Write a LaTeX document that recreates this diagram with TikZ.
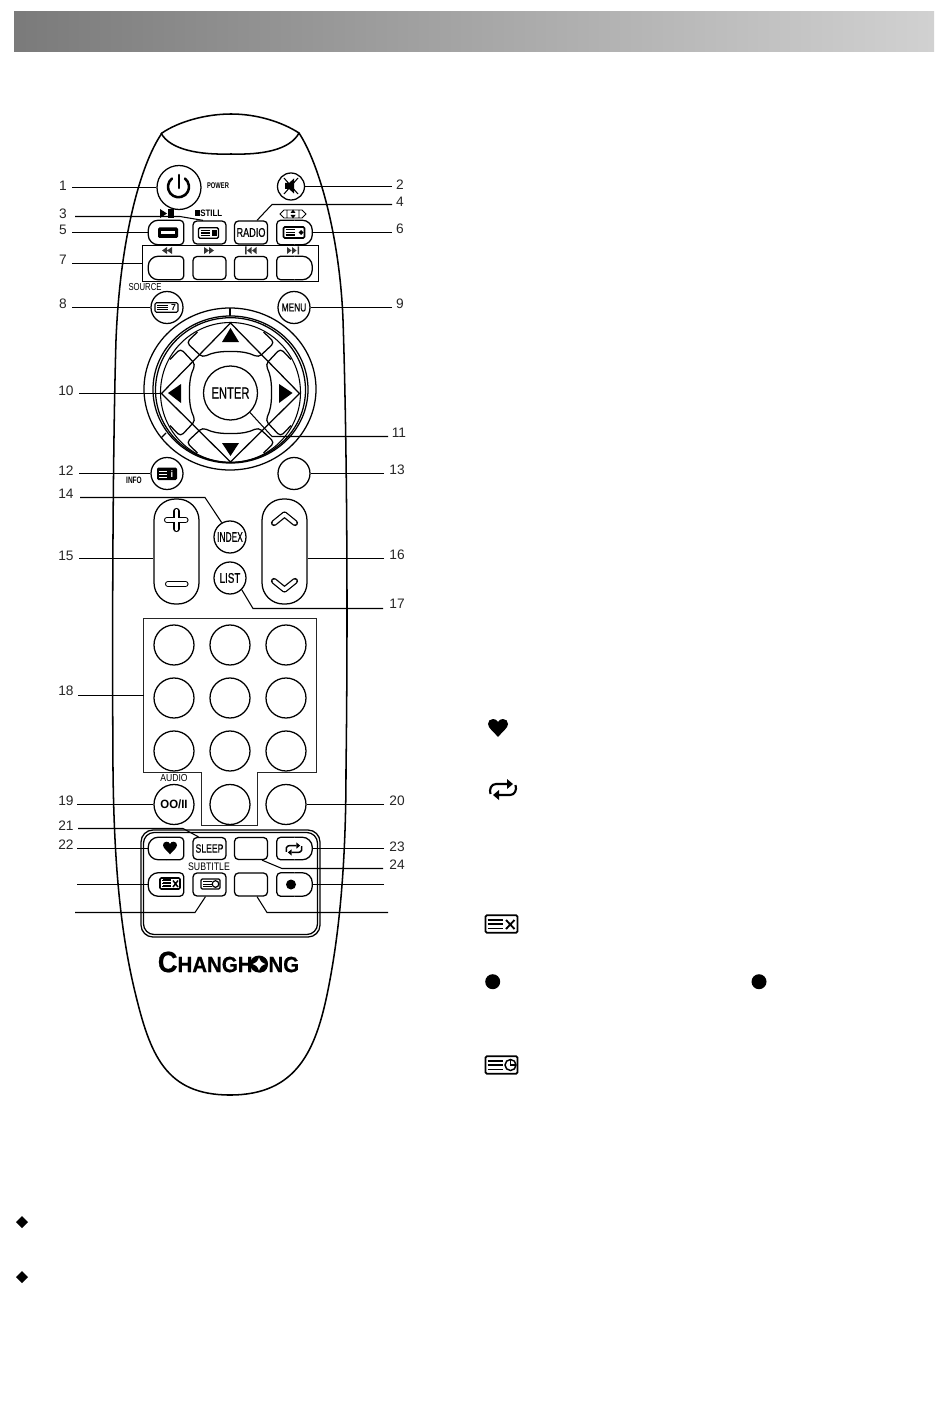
\documentclass[tikz,border=0pt]{standalone}
\usepackage{fontspec}
\setmainfont{Liberation Sans}
\newfontfamily\btnfont[FakeBold=0.7]{Liberation Sans}
\usetikzlibrary{calc,shapes.geometric}
\newcommand\sq[2]{\scalebox{#1}[1]{#2}}
\newcommand\pxfont[1]{\fontsize{#1}{#1}\selectfont}
\tikzset{
  body/.style={line width=1.15pt},
  conn/.style={line width=0.8pt},
  btnl/.style={line width=0.95pt},
  numlabel/.style={inner sep=0,font=\pxfont{10.3pt},text=black!85},
  small/.style={inner sep=0,font=\pxfont{#1pt}},
  circbtn/.style={circle,draw,line width=0.95pt,inner sep=0,minimum size=#1*0.75pt},
  midbtn/.style={rectangle,draw,line width=0.95pt,rounded corners=3pt,inner sep=0,minimum width=33*0.75pt,minimum height=#1*0.75pt},
  anchorbox/.style={rectangle,inner sep=0,minimum width=35*0.75pt,minimum height=#1*0.75pt}
}
% half-round buttons: name, cx, cy, height
\newcommand\btnL[4]{\node[anchorbox=#4] (#1) at (#2,#3) {};
  \draw[btnl,rounded corners=7.5pt] (#1.north) -- (#1.north west) -- (#1.south west) -- (#1.south);
  \draw[btnl,rounded corners=3pt] (#1.north) -- (#1.north east) -- (#1.south east) -- (#1.south);}
\newcommand\btnR[4]{\node[anchorbox=#4] (#1) at (#2,#3) {};
  \draw[btnl,rounded corners=3pt] (#1.north) -- (#1.north west) -- (#1.south west) -- (#1.south);
  \draw[btnl,rounded corners=7.5pt] (#1.north) -- (#1.north east) -- (#1.south east) -- (#1.south);}
% teletext icon: cx cy w h lw
\newcommand\tele[5]{\begin{scope}[shift={(#1,#2)}]
  \pgfmathsetmacro\hw{#3/2}\pgfmathsetmacro\hh{#4/2}
  \draw[line width=#5pt,rounded corners=1pt] (-\hw,-\hh) rectangle (\hw,\hh);
  \pgfmathsetmacro\lx{-\hw+2}\pgfmathsetmacro\rx{\hw*0.12}
  \foreach \t in {-.48,0,.48} \draw[line width=#5*.8pt] (\lx,\t*\hh) -- (\rx,\t*\hh);
  \end{scope}}
\newcommand\heart[3]{\fill[shift={(#1,#2)},scale=#3] (0,9) .. controls (-4,4) and (-10,0) .. (-10,-4) .. controls (-10,-7) and (-8,-9) .. (-5,-9) .. controls (-3,-9) and (-1,-8) .. (0,-6) .. controls (1,-8) and (3,-9) .. (5,-9) .. controls (8,-9) and (10,-7) .. (10,-4) .. controls (10,0) and (4,4) .. (0,9) -- cycle;}
\newcommand\repeaticon[4]{\begin{scope}[shift={(#1,#2)},scale=#3]
  \foreach \r in {0,180}{\begin{scope}[rotate=\r]
    \draw[line width=#4pt] (-12.5,4.5) .. controls (-14,0) and (-12,-5.5) .. (-7,-5.5) -- (4,-5.5);
    \fill (4,-10.5) -- (10,-5.5) -- (4,-0.5) -- cycle;
  \end{scope}}
  \end{scope}}
\begin{document}
\begin{tikzpicture}[x=0.75pt,y=-0.75pt,line cap=butt]
\useasboundingbox (0,0) rectangle (950,1426);
\fill[white] (0,0) rectangle (950,1426);
\shade[left color=black!52,right color=black!18] (14,12) rectangle (934,52);

% remote body
\draw[body] (231,114) .. controls (205,114) and (178,122) .. (162,133)
  .. controls (140,165) and (120,240) .. (116,340)
  .. controls (113,440) and (112,620) .. (113,770)
  .. controls (114,860) and (120,930) .. (135,992)
  .. controls (150,1054) and (165,1095) .. (230,1095)
  .. controls (297,1095) and (316,1050) .. (328,990)
  .. controls (340,930) and (346,860) .. (346,770)
  .. controls (348,620) and (347,440) .. (343,320)
  .. controls (340,240) and (320,165) .. (299,133)
  .. controls (282,122) and (257,114) .. (231,114) -- cycle;
\draw[body] (161,133) .. controls (170,150) and (200,155) .. (231,154) .. controls (262,155) and (290,150) .. (299,133);

% top buttons
\node[circbtn=44] (power) at (179,187.5) {};
\draw[line width=1.9pt,line cap=round] (172,178.5) arc[start angle=232,delta angle=-284,radius=10.5];
\draw[line width=1.9pt,line cap=round] (179,175) -- (179,188);
\node[circbtn=27] (mute) at (291,186.5) {};
\fill (285,183) -- (289,183) -- (294,178.5) -- (294,193.5) -- (289,189) -- (285,189) -- cycle;
\draw[line width=0.8pt] (284,178) -- (298,194) (298,178) -- (284,194);
\node[small=6.2] (powerlbl) at (218,186) {\bfseries\sq{.7}{POWER}};

\btnL{play}{166}{232.5}{24}
\node[midbtn=23] (still) at (209.5,232.5) {};
\node[midbtn=23] (radio) at (251,232.5) {\btnfont\pxfont{9.5pt}\sq{.72}{RADIO}};
\btnR{threed}{294.5}{232.5}{24}
\fill[rounded corners=1pt] (158,227.5) rectangle (178,238);
\fill[white] (161,231) rectangle (175,234.5);
\tele{208.5}{233}{20}{10.5}{1.1}
\fill (212,230) rectangle (216.5,236);
\tele{294}{232.5}{21}{11}{1.2}
\fill (301,230) -- (303.5,232.5) -- (301,235) -- (298.5,232.5) -- cycle;
\fill (160,209) -- (167,213.5) -- (160,218) -- cycle;
\fill (168,209) rectangle (174,218);
\fill (195,210) rectangle (199.5,216);
\node[small=7,anchor=west] (stilllbl) at (200,213) {\bfseries\sq{.85}{STILL}};
\draw[line width=0.6pt] (280,214) -- (284,210) -- (302,210) -- (306,214) -- (302,218) -- (284,218) -- cycle (287,210) -- (287,218) (299,210) -- (299,218);
\fill (293,209.5) -- (295.5,213) -- (290.5,213) -- cycle (293,218.5) -- (295.5,215) -- (290.5,215) -- cycle;

% row 7
\node[draw,line width=0.7pt,inner sep=0,minimum width=176*0.75pt,minimum height=36*0.75pt] (boxseven) at (230,263.5) {};
\btnL{rew}{166}{268}{23}
\node[midbtn=23] (ffw) at (209.5,268) {};
\node[midbtn=23] (prev) at (251,268) {};
\btnR{next}{294.5}{268}{23}
\fill[black!80] (167,247) -- (162,250.5) -- (167,254) -- cycle (172,247) -- (167,250.5) -- (172,254) -- cycle;
\fill[black!80] (204,247) -- (209,250.5) -- (204,254) -- cycle (209,247) -- (214,250.5) -- (209,254) -- cycle;
\fill[black!80] (245,246.5) rectangle (246.5,254.5) (251.5,247) -- (247,250.5) -- (251.5,254) -- cycle (256.5,247) -- (252,250.5) -- (256.5,254) -- cycle;
\fill[black!80] (287,247) -- (291.5,250.5) -- (287,254) -- cycle (292,247) -- (296.5,250.5) -- (292,254) -- cycle (297.5,246.5) rectangle (299,254.5);

% source / menu
\node[circbtn=32] (source) at (167,307.5) {};
\tele{166.5}{307.5}{23}{9.5}{0.8}
\node[small=6.5] at (173.5,307.5) {\bfseries 7};
\node[small=7.6] (sourcelbl) at (145,287) {\sq{.76}{SOURCE}};
\node[circbtn=32] (menu) at (294,307.5) {\btnfont\pxfont{8.6pt}\sq{.73}{MENU}};

% d-pad
\draw[line width=0.95pt] (230,389) ellipse[x radius=86,y radius=81];
\draw[line width=0.95pt] (230.5,389.5) ellipse[x radius=77.5,y radius=73.5];
\draw[line width=0.95pt] (230.5,390) ellipse[x radius=75,y radius=72.3];
\draw[line width=0.8pt] (230.5,392.5) circle[radius=70];
\coordinate (dpadc) at (230.5,392.5);
\draw[line width=0.95pt] (230,308) -- (230,316);
\draw[line width=0.95pt] (161,438) -- (166,433);
\coordinate (tipT) at (230.5,323);
\coordinate (tipL) at (161.5,393.5);
\coordinate (tipR) at (299.5,393.5);
\coordinate (tipB) at (230.5,462);
\draw[line width=0.95pt] (tipT) -- (tipR) -- (tipB) -- (tipL) -- cycle;
\foreach \a in {0,90,180,270}{
  \begin{scope}[shift={(230.5,392.5)},rotate=\a]
  \draw[line width=0.95pt,rounded corners=3pt] (-33,-60.5) -- (-44,-50) -- (-28,-35) .. controls (-18,-40) and (-10,-41) .. (0,-41) .. controls (10,-41) and (18,-40) .. (28,-35) -- (44,-50) -- (33,-60.5);
  \end{scope}}
\fill (222,342) -- (230.5,328) -- (239,342) -- cycle;
\fill (222,443) -- (230.5,456) -- (239,443) -- cycle;
\fill (168,393) -- (181,384) -- (181,403) -- cycle;
\fill (292.5,393) -- (279,384) -- (279,403) -- cycle;
\node[circbtn=54,fill=white] (enter) at (230.5,393) {\btnfont\pxfont{12pt}\sq{.7}{ENTER}};

% info / 13
\node[circbtn=32] (info) at (167,473.5) {};
\fill[rounded corners=1pt] (157,467.5) rectangle (177,480);
\foreach \yy in {471,474,477}{\draw[white,line width=0.5pt] (159,\yy) -- (167,\yy);}
\node[small=7,text=white] at (172,474) {\bfseries i};
\node[small=7] (infolbl) at (134,480) {\bfseries\sq{.7}{INFO}};
\node[circbtn=32] (btnthirteen) at (294,473.5) {};

% volume / channel
\node[draw,line width=0.95pt,rounded corners=16pt,inner sep=0,minimum width=45*0.75pt,minimum height=105*0.75pt] (vol) at (176.5,551.5) {};
\node[draw,line width=0.95pt,rounded corners=16pt,inner sep=0,minimum width=45*0.75pt,minimum height=105*0.75pt] (chan) at (284.5,551.5) {};
\begin{scope}[line cap=round]
\draw[line width=4.6pt] (176.5,511) -- (176.5,529) (167,520) -- (185.5,520);
\draw[white,line width=2.9pt] (176.5,511) -- (176.5,529) (167,520) -- (185.5,520);
\draw[line width=4.6pt] (168,584) -- (185.5,584);
\draw[white,line width=2.9pt] (168,584) -- (185.5,584);
\draw[line width=4.6pt,line join=round] (274,523) -- (284.5,514.5) -- (295,523);
\draw[white,line width=2.7pt,line join=round] (274,523) -- (284.5,514.5) -- (295,523);
\draw[line width=4.6pt,line join=round] (274,581) -- (284.5,589.5) -- (295,581);
\draw[white,line width=2.7pt,line join=round] (274,581) -- (284.5,589.5) -- (295,581);
\end{scope}
\node[circbtn=32] (index) at (230,537) {\btnfont\pxfont{10.5pt}\sq{.6}{INDEX}};
\node[circbtn=32] (list) at (230,578) {\btnfont\pxfont{10.5pt}\sq{.7}{LIST}};

% number pad
\draw[line width=1pt,black!85] (143.5,618.5) -- (316.5,618.5) -- (316.5,772.5) -- (257.5,772.5) -- (257.5,825.5) -- (201.5,825.5) -- (201.5,772.5) -- (143.5,772.5) -- cycle;
\coordinate (padw) at (143.5,695.5);
\foreach \col/\xx in {a/174,b/230,c/286}{
  \foreach \row/\yy in {1/645,2/698,3/751}{
    \node[circbtn=40] (n\col\row) at (\xx,\yy) {};
  }}
\node[circbtn=40] (audio) at (174,804.5) {\bfseries\pxfont{9pt}\sq{.95}{OO/II}};
\node[circbtn=40] (nzero) at (230,804.5) {};
\node[circbtn=40] (btntwenty) at (286,804.5) {};
\node[small=7.6] (audiolbl) at (174,778) {\sq{.85}{AUDIO}};

% lower group
\draw[line width=0.95pt,rounded corners=9pt] (141,830) rectangle (320,937);
\draw[line width=0.95pt,rounded corners=8pt] (143.5,832.5) rectangle (317.5,934.5);
\btnL{fav}{166}{848.5}{22}
\node[midbtn=22] (sleep) at (209.5,848.5) {\btnfont\pxfont{9pt}\sq{.72}{SLEEP}};
\node[midbtn=22] (btnblank) at (251,848.5) {};
\btnR{rep}{294.5}{848.5}{22}
\btnL{cancel}{166}{884.5}{23}
\node[midbtn=23] (subtitle) at (209.5,884.5) {};
\node[midbtn=23] (btnblankb) at (251,884.5) {};
\btnR{dot}{294.5}{884.5}{23}
\heart{170}{848}{0.7}
\repeaticon{294}{849}{0.62}{1.1}
\tele{170}{883.5}{20}{11}{1.2}
\fill (163,878.5) rectangle (171,889);
\foreach \yy in {881,884,887}{\draw[white,line width=0.5pt] (160.5,\yy) -- (171,\yy);}
\draw[line width=1.1pt] (173,880.5) -- (178,887) (178,880.5) -- (173,887);
\tele{210.5}{884}{19}{10}{0.9}
\draw[line width=0.9pt] (215.5,884) circle[radius=3.3];
\fill (291,884.5) circle[radius=5];
\node[small=8.2] (subtitlelbl) at (209,867) {\sq{.8}{SUBTITLE}};

% logo
\node[inner sep=0] (logo) at (228.5,962) {\btnfont\bfseries\sq{.93}{\pxfont{22pt}C\pxfont{16.5pt}HANGHONG}};
\fill (259,964) ellipse[x radius=9,y radius=8.5];
\fill[white] (259,957.5) .. controls (260,961) and (262,963) .. (265.5,964) .. controls (262,965) and (260,967) .. (259,970.5) .. controls (258,967) and (256,965) .. (252.5,964) .. controls (256,963) and (258,961) .. (259,957.5) -- cycle;

% labels
\foreach \n/\xx/\yy in {1/63/186,3/63/214,5/63/230,7/63/260,8/63/304,10/66/391,12/66/471,14/66/494,15/66/556,18/66/691,19/66/801,21/66/826,22/66/845,2/400/185,4/400/202,6/400/229,9/400/304,11/399/433,13/397/470,16/397/555,17/397/604,20/397/801,23/397/847,24/397/865}{
  \node[numlabel] (l\n) at (\xx,\yy) {\n};
}

% free ends
\coordinate (c1) at (72,187.5); \coordinate (c2) at (392,186.5);
\coordinate (c3) at (75,216.5); \coordinate (c4) at (392,204.5);
\coordinate (c5) at (72,232.5); \coordinate (c6) at (392,232.5);
\coordinate (c7) at (72,263.5); \coordinate (c8) at (72,307.5);
\coordinate (c9) at (392,307.5); \coordinate (c10) at (79,393.5);
\coordinate (c11) at (388,436.5); \coordinate (c12) at (79,473.5);
\coordinate (c13) at (384,473.5); \coordinate (c14) at (80,497.5);
\coordinate (c15) at (79,558.5); \coordinate (c16) at (384,558.5);
\coordinate (c17) at (383,608.5); \coordinate (c18) at (78,695.5);
\coordinate (c19) at (77,804.5); \coordinate (c20) at (384,804.5);
\coordinate (c21) at (78,828.5); \coordinate (c22) at (77,848.5);
\coordinate (c23) at (384,848.5); \coordinate (c24) at (383,868.5);
\coordinate (ca) at (77,884.5); \coordinate (cb) at (75,912.5);
\coordinate (cc) at (384,884.5); \coordinate (cd) at (388,912.5);

\begin{scope}[conn]
\draw (c1) -- (power.west);
\draw (c2) -- (mute.east);
\draw (c3) -- (180,216.5) -- ($(still.north)+(-6.5,0)$);
\draw (c4) -- (272,204.5) -- ($(radio.north)+(6,0)$);
\draw (c5) -- (play.west);
\draw (c6) -- (threed.east);
\draw (c7) -- (boxseven.west);
\draw (c8) -- (source.west);
\draw (c9) -- (menu.east);
\draw (c10) -- (tipL);
\draw (c11) -- (272,436.5) -- (enter.-45);
\draw (c12) -- (info.west);
\draw (c13) -- (btnthirteen.east);
\draw (c14) -- (205,497.5) -- (index.120);
\draw (c15) -- (vol.west |- c15);
\draw (c16) -- (chan.east |- c16);
\draw (c17) -- (253,608.5) -- (list.-45);
\draw (c18) -- (padw);
\draw (c19) -- (audio.west);
\draw (c20) -- (btntwenty.east);
\draw (c21) -- (183,828.5) -- ($(sleep.north)+(-11,0)$);
\draw (c22) -- (fav.west);
\draw (c23) -- (rep.east);
\draw (c24) -- (282,868.5) -- ($(btnblank.south)+(11,0)$);
\draw (ca) -- (cancel.west);
\draw (cb) -- (195,912.5) -- ($(subtitle.south)+(-4,0)$);
\draw (cc) -- (dot.east);
\draw (cd) -- (267,912.5) -- ($(btnblankb.south)+(6,0)$);
\end{scope}

% right-page icons
\heart{498}{728}{1}
\repeaticon{503}{789.5}{1}{1.6}
\tele{501.5}{924}{32}{17.5}{1.3}
\draw[line width=1.4pt] (506,920) -- (514.5,929) (514.5,920) -- (506,929);
\fill (492.7,981.7) circle[radius=7.5];
\fill (759,981.7) circle[radius=7.5];
\tele{501.5}{1065}{32}{17.5}{1.3}
\draw[line width=1.1pt] (510.5,1065) circle[radius=5.5];
\draw[line width=1pt] (510.5,1059.5) -- (510.5,1065) -- (516,1065);

% bullets
\fill (22,1216) -- (28,1222) -- (22,1228) -- (16,1222) -- cycle;
\fill (22,1271) -- (28,1277) -- (22,1283) -- (16,1277) -- cycle;
\end{tikzpicture}
\end{document}
